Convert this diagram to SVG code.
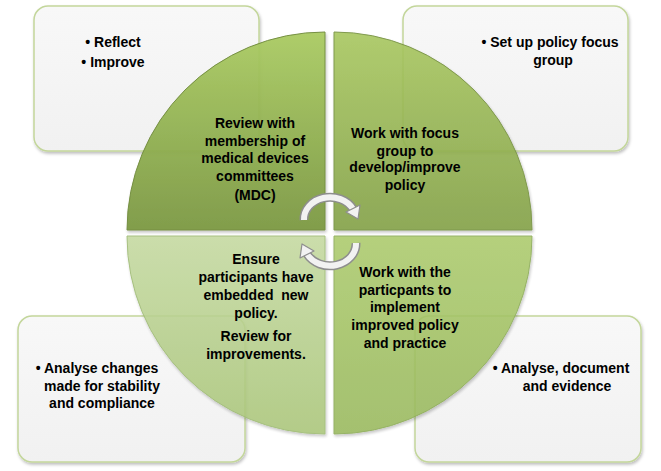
<svg xmlns="http://www.w3.org/2000/svg" width="661" height="471" viewBox="0 0 661 471">
<defs>
<style>
.box{fill:url(#boxg);stroke:#c3d69b;stroke-width:1.5;filter:url(#sh)}
.q{stroke-width:1;filter:url(#sh)}
.t{font-family:"Liberation Sans",Arial,sans-serif;font-weight:bold;font-size:14px;fill:#000;text-anchor:middle}
.tube{fill:none;stroke:#8e8e8e;stroke-width:9;stroke-linecap:butt}
.tubein{fill:none;stroke:#f2f2f2;stroke-width:6;stroke-linecap:butt}
.head{fill:#f2f2f2;stroke:#8e8e8e;stroke-width:1.2;stroke-linejoin:round}
</style>
<linearGradient id="boxg" x1="0" y1="0" x2="0" y2="1"><stop offset="0" stop-color="#f8f8f8"/><stop offset="1" stop-color="#f1f1f1"/></linearGradient>
<linearGradient id="gTL" x1="0" y1="0" x2="0" y2="1"><stop offset="0" stop-color="#aacb62"/><stop offset="1" stop-color="#7b9842"/></linearGradient>
<linearGradient id="gTR" x1="0" y1="0" x2="0" y2="1"><stop offset="0" stop-color="#a8c75f"/><stop offset="1" stop-color="#82a046"/></linearGradient>
<linearGradient id="gBL" x1="0" y1="0" x2="0" y2="1"><stop offset="0" stop-color="#c4d9a0"/><stop offset="1" stop-color="#a9c578"/></linearGradient>
<linearGradient id="gBR" x1="0" y1="0" x2="0" y2="1"><stop offset="0" stop-color="#abca6b"/><stop offset="1" stop-color="#98b85c"/></linearGradient>
<filter id="sh" x="-10%" y="-10%" width="120%" height="120%"><feDropShadow dx="1" dy="2" stdDeviation="1.5" flood-color="#000" flood-opacity="0.25"/></filter>
</defs>
<rect width="661" height="471" fill="#ffffff"/>
<g id="box-tl"><rect class="box" x="34" y="6" width="225" height="145" rx="14"/>
<text class="t" x="113" y="47">• Reflect</text><text class="t" x="113" y="67">• Improve</text></g>
<g id="box-tr"><rect class="box" x="403" y="6" width="225" height="145" rx="14"/>
<text class="t" x="550" y="47">• Set up policy focus</text><text class="t" x="553" y="65">group</text></g>
<g id="box-bl"><rect class="box" x="18" y="316" width="227" height="146" rx="14"/>
<text class="t" x="97" y="373">• Analyse changes</text><text class="t" x="102" y="391">made for stability</text><text class="t" x="102" y="408">and compliance</text></g>
<g id="box-br"><rect class="box" x="415" y="316" width="226" height="146" rx="14"/>
<text class="t" x="561" y="373">• Analyse, document</text><text class="t" x="567" y="391">and evidence</text></g>
<g id="q-tl"><path class="q" d="M325,230 L127,230 A198,198 0 0 1 325,32 Z" fill="url(#gTL)" stroke="#6f8a3a" opacity="0.95"/>
<text class="t" x="255" y="128">Review with</text><text class="t" x="255" y="146">membership of</text><text class="t" x="255" y="163">medical devices</text><text class="t" x="255" y="181">committees</text><text class="t" x="255" y="200">(MDC)</text></g>
<g id="q-tr"><path class="q" d="M334,230 L334,32 A198,198 0 0 1 532,230 Z" fill="url(#gTR)" stroke="#738f3c" opacity="0.9"/>
<text class="t" x="405" y="138">Work with focus</text><text class="t" x="405" y="156">group to</text><text class="t" x="405" y="172">develop/improve</text><text class="t" x="405" y="190">policy</text></g>
<g id="q-bl"><path class="q" d="M325,236 L325,434 A198,198 0 0 1 127,236 Z" fill="url(#gBL)" stroke="#9bb870" opacity="0.88"/>
<text class="t" x="256" y="264">Ensure</text><text class="t" x="256" y="282">participants have</text><text class="t" x="256" y="300">embedded&#160; new</text><text class="t" x="256" y="318">policy.</text><text class="t" x="256" y="341">Review for</text><text class="t" x="256" y="359">improvements.</text></g>
<g id="q-br"><path class="q" d="M334,236 L532,236 A198,198 0 0 1 334,434 Z" fill="url(#gBR)" stroke="#88a852" opacity="0.88"/>
<text class="t" x="405" y="277">Work with the</text><text class="t" x="405" y="295">particpants to</text><text class="t" x="405" y="312">implement</text><text class="t" x="405" y="330">improved policy</text><text class="t" x="405" y="348">and practice</text></g>
<g id="connectors">
<path class="tube" d="M304,220 A26,22 0 0 1 353,209"/>
<path class="tubein" d="M304,220 A26,22 0 0 1 353,209"/>
<polygon class="head" points="360,205 346,212 358,219"/>
<path class="tube" d="M356,243 A26,22 0 0 1 307,254"/>
<path class="tubein" d="M356,243 A26,22 0 0 1 307,254"/>
<polygon class="head" points="300,258 314,251 302,244"/>
</g>
</svg>
